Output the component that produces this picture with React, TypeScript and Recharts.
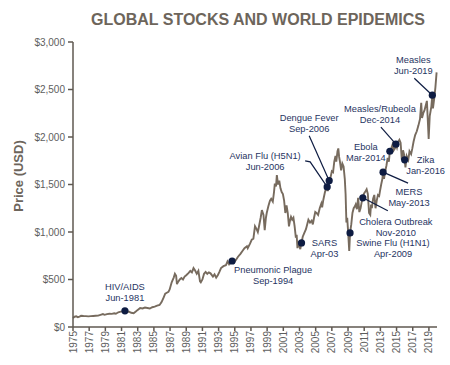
import React from 'react';
import { ComposedChart, Line, XAxis, YAxis, ReferenceDot } from 'recharts';

// price history, sampled at turning points (decimal year -> USD)
const sampleYears = [
  1975.0, 1975.2, 1975.4, 1975.6, 1975.8, 1976.0, 1976.3, 1976.6, 1976.9,
  1977.2, 1977.5, 1977.8, 1978.1, 1978.4, 1978.7, 1978.9, 1979.2, 1979.5, 1979.8,
  1980.1, 1980.3, 1980.6, 1980.9, 1981.2, 1981.42, 1981.7, 1981.9, 1982.2, 1982.5, 1982.8,
  1983.0, 1983.3, 1983.6, 1983.9, 1984.2, 1984.5, 1984.8, 1985.1, 1985.4, 1985.7, 1985.95,
  1986.2, 1986.4, 1986.6, 1986.8, 1986.95, 1987.2, 1987.45, 1987.6, 1987.75, 1987.85, 1987.95,
  1988.2, 1988.4, 1988.6, 1988.8, 1989.0, 1989.3, 1989.5, 1989.7, 1989.9,
  1990.1, 1990.3, 1990.5, 1990.7, 1990.8, 1991.0, 1991.2, 1991.4, 1991.6, 1991.8,
  1992.0, 1992.3, 1992.5, 1992.7, 1992.9, 1993.1, 1993.3, 1993.6, 1993.9,
  1994.1, 1994.3, 1994.5, 1994.67, 1994.9, 1995.1, 1995.4, 1995.7, 1995.95,
  1996.2, 1996.5, 1996.6, 1996.9, 1997.1, 1997.3, 1997.5, 1997.7, 1997.85, 1997.95,
  1998.2, 1998.35, 1998.55, 1998.7, 1998.85, 1998.95, 1999.15, 1999.35, 1999.5, 1999.7, 1999.85, 1999.95,
  2000.1, 2000.2, 2000.35, 2000.5, 2000.65, 2000.8, 2000.95,
  2001.1, 2001.25, 2001.4, 2001.55, 2001.7, 2001.85, 2001.95,
  2002.1, 2002.25, 2002.4, 2002.55, 2002.65, 2002.75, 2002.85, 2002.95,
  2003.1, 2003.25, 2003.4, 2003.6, 2003.8, 2003.95,
  2004.1, 2004.3, 2004.5, 2004.65, 2004.8, 2004.95,
  2005.1, 2005.3, 2005.5, 2005.7, 2005.8, 2005.95,
  2006.15, 2006.3, 2006.42, 2006.5, 2006.67, 2006.85,
  2007.0, 2007.15, 2007.3, 2007.45, 2007.55, 2007.7, 2007.8, 2007.9,
  2008.0, 2008.15, 2008.3, 2008.45, 2008.6, 2008.7, 2008.8, 2008.9, 2009.0, 2009.15, 2009.25,
  2009.4, 2009.55, 2009.7, 2009.85, 2009.95,
  2010.1, 2010.25, 2010.4, 2010.55, 2010.7, 2010.83, 2010.95,
  2011.1, 2011.3, 2011.45, 2011.6, 2011.75, 2011.85, 2011.95,
  2012.1, 2012.25, 2012.4, 2012.55, 2012.7, 2012.85, 2012.95,
  2013.1, 2013.25, 2013.33, 2013.45, 2013.6, 2013.75, 2013.9,
  2014.05, 2014.17, 2014.35, 2014.5, 2014.65, 2014.8, 2014.92,
  2015.05, 2015.2, 2015.35, 2015.5, 2015.65, 2015.8, 2015.92,
  2016.0, 2016.1, 2016.25, 2016.45, 2016.6, 2016.8, 2016.95,
  2017.1, 2017.3, 2017.5, 2017.7, 2017.9,
  2018.05, 2018.15, 2018.3, 2018.45, 2018.6, 2018.75, 2018.85, 2018.97,
  2019.1, 2019.3, 2019.42, 2019.5, 2019.65, 2019.8, 2019.95,
];

const samplePrices = [
  95, 108, 112, 104, 110, 118, 116, 115, 112,
  114, 116, 118, 120, 128, 136, 128, 136, 140, 138,
  145, 140, 155, 162, 165, 170, 158, 162, 150, 145, 165,
  180, 200, 195, 205, 200, 195, 208, 215, 225, 232, 262,
  310, 350, 360, 370, 395, 470, 520, 560, 540, 450, 470,
  500, 515, 500, 530, 545, 570, 590, 575, 620,
  595, 560, 590, 480, 470, 500, 560, 580, 560, 575,
  565, 530, 555, 520, 545, 580, 620, 640, 650,
  690, 660, 680, 695, 680, 700, 740, 770, 800,
  830, 850, 830, 880, 920, 930, 1060, 1030, 1000, 1040,
  1150, 1230, 1180, 1020, 1150, 1200, 1270, 1330, 1350, 1320, 1420, 1510,
  1480, 1600, 1500, 1540, 1460, 1420, 1400,
  1330, 1200, 1280, 1200, 1060, 1130, 1160,
  1130, 1150, 1060, 940, 970, 830, 900, 860,
  820, 885, 950, 990, 1030, 1080,
  1130, 1100, 1120, 1080, 1150, 1210,
  1200, 1180, 1250, 1300, 1260, 1340,
  1420, 1460, 1475, 1430, 1540, 1580,
  1640, 1630, 1740, 1800, 1740, 1850, 1880, 1790,
  1740, 1650, 1720, 1690, 1560, 1400, 1100, 1150, 1020, 800, 990,
  1080, 1200, 1250, 1270, 1290,
  1240, 1360, 1210, 1250, 1320, 1360, 1400,
  1420, 1450, 1400, 1200, 1180, 1290, 1250,
  1350, 1390, 1250, 1330, 1390, 1380, 1430,
  1500, 1560, 1630, 1560, 1640, 1700, 1780,
  1740, 1850, 1880, 1920, 1860, 1880, 1925,
  1890, 1950, 1970, 1940, 1760, 1860, 1820,
  1760, 1680, 1800, 1760, 1850, 1820, 1880,
  1950, 2020, 2060, 2120, 2190,
  2360, 2200, 2250, 2280, 2330, 2380, 2200, 1980,
  2220, 2320, 2440, 2300, 2400, 2520, 2680,
];

const yearTicks = [
  1975, 1977, 1979, 1981, 1983, 1985, 1987, 1989, 1991, 1993, 1995, 1997,
  1999, 2001, 2003, 2005, 2007, 2009, 2011, 2013, 2015, 2017, 2019,
];
const priceTicks = [0, 500, 1000, 1500, 2000, 2500, 3000];

// epidemic events
const eventNames = [
  'HIV/AIDS', 'Pneumonic Plague', 'SARS', 'Avian Flu (H5N1)', 'Dengue Fever',
  'Swine Flu (H1N1)', 'Cholera Outbreak', 'MERS', 'Ebola', 'Measles/Rubeola', 'Zika', 'Measles',
];
const eventDates = [
  'Jun-1981', 'Sep-1994', 'Apr-03', 'Jun-2006', 'Sep-2006',
  'Apr-2009', 'Nov-2010', 'May-2013', 'Mar-2014', 'Dec-2014', 'Jan-2016', 'Jun-2019',
];
const eventYears = [
  1981.42, 1994.67, 2003.25, 2006.42, 2006.67,
  2009.25, 2010.83, 2013.33, 2014.17, 2014.92, 2016.0, 2019.42,
];
const eventPrices = [170, 695, 885, 1475, 1540, 990, 1360, 1630, 1850, 1925, 1760, 2440];

// label placement relative to each dot: text centre offset and leader line points
const labelLayout: { dx: number; dy: number; leader?: [number, number][] }[] = [
  { dx: 0, dy: -24 },
  { dx: 41, dy: 9 },
  { dx: 23, dy: 0 },
  { dx: -62, dy: -31, leader: [[-17, -25], [-22, -26]] },
  { dx: -20, dy: -63, leader: [[-20, -45]] },
  { dx: 43, dy: 10 },
  { dx: 33, dy: 24, leader: [[25, 13]] },
  { dx: 26, dy: 20, leader: [[25, 11]] },
  { dx: -24, dy: -4 },
  { dx: -16, dy: -35, leader: [[-15, -17]] },
  { dx: 21, dy: 0 },
  { dx: -19, dy: -35, leader: [[-18, -17]] },
];

const FONT = '"Liberation Sans", Arial, sans-serif';
const NAVY = '#1f3462';
const DOT = '#0e1c42';
const AXIS = '#5f5851';
const TICK_TEXT = '#5e5e5e';
const LINE = '#776b5e';
const TITLE = '#6d655b';

const data = sampleYears.map((t, i) => ({ t, price: samplePrices[i] }));

const YearTick = (props: any) => {
  const { x, y, payload } = props;
  return (
    <text
      transform={`translate(${x},${y}) rotate(-90)`}
      textAnchor="end"
      dominantBaseline="central"
      fontSize={10}
      fontFamily={FONT}
      fill={TICK_TEXT}
    >
      {payload.value}
    </text>
  );
};

const makeEventShape = (i: number) => (props: any) => {
  const { cx, cy } = props;
  const lay = labelLayout[i];
  const pts = [[cx, cy], ...(lay.leader || []).map(([a, b]) => [cx + a, cy + b])];
  return (
    <g>
      {lay.leader && (
        <polyline
          points={pts.map((p) => p.join(',')).join(' ')}
          fill="none"
          stroke={DOT}
          strokeWidth={1.2}
        />
      )}
      <circle cx={cx} cy={cy} r={3.6} fill={DOT} />
      <text
        x={cx + lay.dx}
        y={cy + lay.dy}
        textAnchor="middle"
        dominantBaseline="central"
        fontSize={9.3}
        fontFamily={FONT}
        fill={NAVY}
      >
        <tspan x={cx + lay.dx}>{eventNames[i]}</tspan>
        <tspan x={cx + lay.dx} dy={11}>{eventDates[i]}</tspan>
      </text>
    </g>
  );
};

const App: React.FC = () => {
  return (
    <div style={{ position: 'absolute', left: 0, top: 0, width: 450, height: 365, background: '#fff', fontFamily: FONT }}>
      <div
        style={{
          position: 'absolute', left: 258, top: 20, transform: 'translate(-50%, -50%)',
          whiteSpace: 'nowrap', fontSize: 16, fontWeight: 'bold', color: TITLE,
        }}
      >
        GLOBAL STOCKS AND WORLD EPIDEMICS
      </div>
      <div
        style={{
          position: 'absolute', left: 18, top: 176, transform: 'translate(-50%, -50%) rotate(-90deg)',
          whiteSpace: 'nowrap', fontSize: 13, fontWeight: 'bold', color: TITLE,
        }}
      >
        Price (USD)
      </div>
      <ComposedChart width={450} height={365} data={data} margin={{ top: 42, right: 13, left: 0, bottom: 0 }}>
        <XAxis
          dataKey="t"
          type="number"
          domain={[1975, 2020]}
          ticks={yearTicks}
          interval={0}
          height={38}
          stroke={AXIS}
          strokeWidth={1.5}
          tickSize={4}
          tickMargin={0}
          tick={<YearTick />}
        />
        <YAxis
          type="number"
          domain={[0, 3000]}
          ticks={priceTicks}
          width={73}
          stroke={AXIS}
          strokeWidth={1.5}
          tickSize={5}
          tickMargin={3}
          tick={{ fontSize: 10, fontFamily: FONT, fill: TICK_TEXT }}
          tickFormatter={(v: number) => `$${v.toLocaleString('en-US')}`}
        />
        <Line
          type="linear"
          dataKey="price"
          stroke={LINE}
          strokeWidth={1.9}
          dot={false}
          isAnimationActive={false}
        />
        {eventYears.map((yr, i) => (
          <ReferenceDot key={eventNames[i]} x={yr} y={eventPrices[i]} r={3.6} shape={makeEventShape(i)} />
        ))}
      </ComposedChart>
    </div>
  );
};

export default App;
